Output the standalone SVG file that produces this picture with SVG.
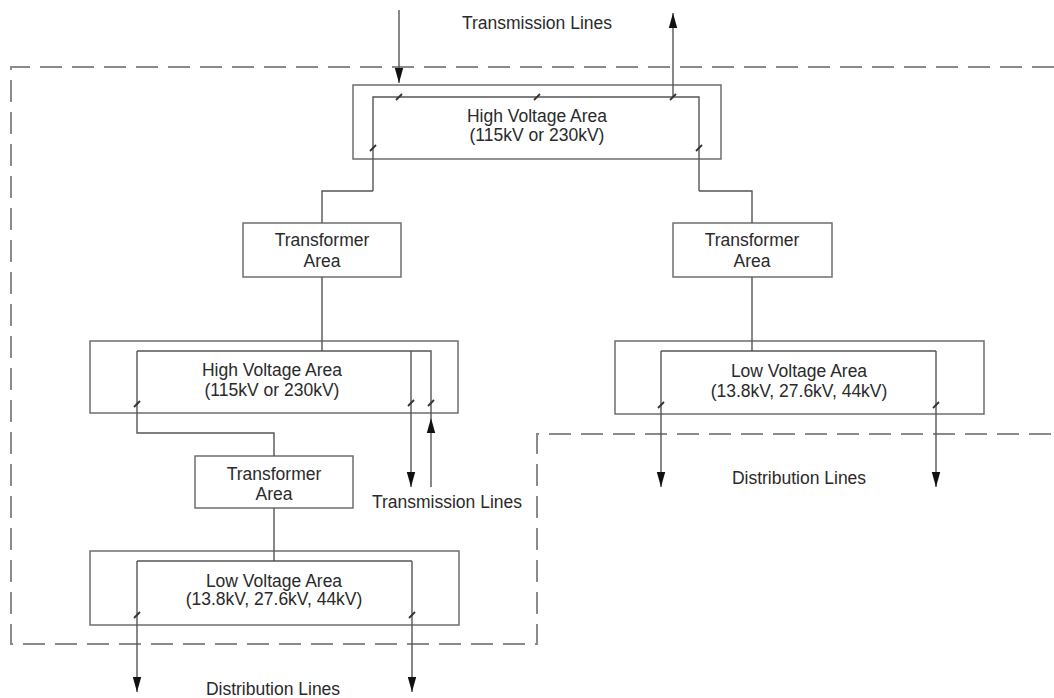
<svg xmlns="http://www.w3.org/2000/svg" width="1054" height="698" viewBox="0 0 1054 698">
<style>
.box{fill:none;stroke:#6e6e6e;stroke-width:1.5}
.ln{fill:none;stroke:#555;stroke-width:1.4}
.tk{fill:none;stroke:#333;stroke-width:1.8}
.dash{fill:none;stroke:#8a8a8a;stroke-width:2;stroke-dasharray:22 10}
text{font-family:"Liberation Sans",Arial,sans-serif;font-size:17.5px;fill:#2a2a2a;text-anchor:middle}
</style>
<defs>
<marker id="ah" markerUnits="userSpaceOnUse" markerWidth="15" markerHeight="10" refX="15" refY="5" orient="auto">
<path d="M0,0.8 L15,5 L0,9.2 z" fill="#111"/>
</marker>
</defs>
<rect width="1054" height="698" fill="#fff"/>
<path class="dash" d="M1054,67 H11 V644 H537 V434 H1054"/>
<g id="hv-top">
<rect class="box" x="353" y="85" width="368" height="74"/>
<text x="537" y="122">High Voltage Area</text>
<text x="537" y="141">(115kV or 230kV)</text>
</g>
<g id="tr-left">
<rect class="box" x="243" y="223" width="158" height="54"/>
<text x="322" y="246">Transformer</text>
<text x="322" y="267">Area</text>
</g>
<g id="tr-right">
<rect class="box" x="673" y="223" width="159" height="54"/>
<text x="752" y="246">Transformer</text>
<text x="752" y="267">Area</text>
</g>
<g id="hv-mid">
<rect class="box" x="90" y="341" width="368" height="72"/>
<text x="272" y="376">High Voltage Area</text>
<text x="272" y="396">(115kV or 230kV)</text>
</g>
<g id="lv-right">
<rect class="box" x="615" y="341" width="369" height="73"/>
<text x="799" y="377">Low Voltage Area</text>
<text x="799" y="397">(13.8kV, 27.6kV, 44kV)</text>
</g>
<g id="tr-bottom">
<rect class="box" x="195" y="456" width="158" height="52"/>
<text x="274" y="480">Transformer</text>
<text x="274" y="500">Area</text>
</g>
<g id="lv-bottom">
<rect class="box" x="90" y="551" width="369" height="74"/>
<text x="274" y="587">Low Voltage Area</text>
<text x="274" y="605">(13.8kV, 27.6kV, 44kV)</text>
</g>
<g id="labels">
<text x="537" y="29">Transmission Lines</text>
<text x="447" y="508">Transmission Lines</text>
<text x="799" y="484">Distribution Lines</text>
<text x="273" y="695">Distribution Lines</text>
</g>
<g id="connectors">
<path class="ln" d="M399,10 V83" marker-end="url(#ah)"/>
<path class="ln" d="M673,97 V13" marker-end="url(#ah)"/>
<path class="ln" d="M373,191 V97 H699 V191"/>
<path class="ln" d="M373,191 H322 V223"/>
<path class="ln" d="M699,191 H752 V223"/>
<path class="ln" d="M322,277 V351"/>
<path class="ln" d="M752,277 V351"/>
<path class="ln" d="M137,351 H431 V418"/>
<path class="ln" d="M137,351 V433 H274 V456"/>
<path class="ln" d="M411,351 V487" marker-end="url(#ah)"/>
<path class="ln" d="M431,487 V418" marker-end="url(#ah)"/>
<path class="ln" d="M274,508 V561"/>
<path class="ln" d="M137,561 H412"/>
<path class="ln" d="M137,561 V692" marker-end="url(#ah)"/>
<path class="ln" d="M412,561 V692" marker-end="url(#ah)"/>
<path class="ln" d="M661,351 H936"/>
<path class="ln" d="M661,351 V487" marker-end="url(#ah)"/>
<path class="ln" d="M936,351 V487" marker-end="url(#ah)"/>
<g class="tk">
<path d="M396,100 L402,94"/>
<path d="M534,100 L540,94"/>
<path d="M670,100 L676,94"/>
<path d="M370,151 L376,145"/>
<path d="M696,151 L702,145"/>
<path d="M134,407 L140,401"/>
<path d="M408,406 L414,400"/>
<path d="M428,406 L434,400"/>
<path d="M658,408 L664,402"/>
<path d="M933,408 L939,402"/>
<path d="M134,618 L140,612"/>
<path d="M409,618 L415,612"/>
</g>
</g>
</svg>
